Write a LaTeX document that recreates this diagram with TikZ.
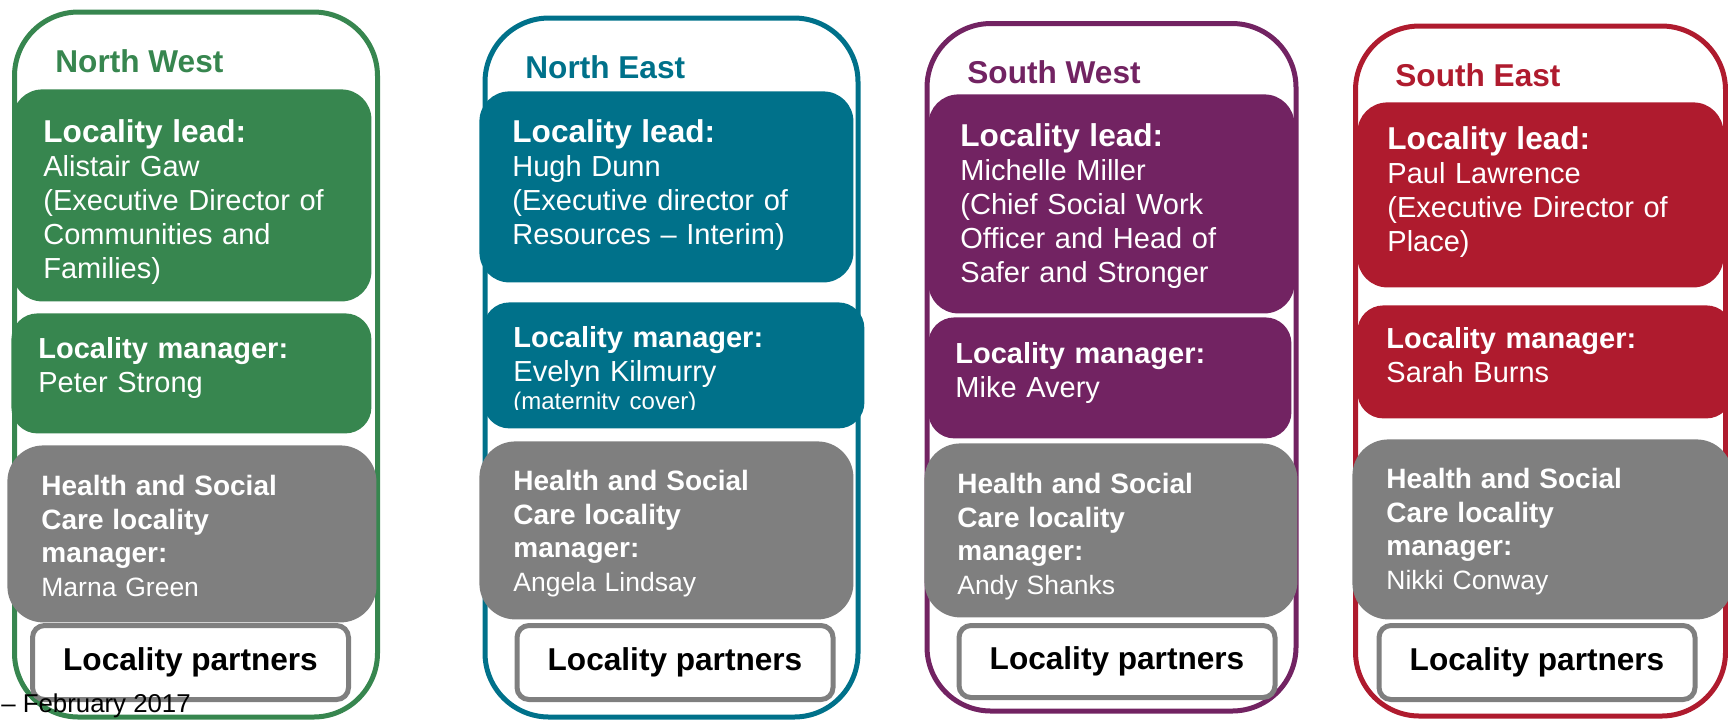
\documentclass[tikz,border=0pt]{standalone}
\usepackage{fontspec}
\setmainfont{Liberation Sans}
\usepackage{tikz}
\definecolor{nwgreen}{HTML}{37864F}
\definecolor{neteal}{HTML}{00718A}
\definecolor{swpurple}{HTML}{722362}
\definecolor{sered}{HTML}{AF1B2E}
\definecolor{boxgray}{HTML}{7F7F7F}
\newcommand{\headtext}[1]{{\fontsize{15.8}{17}\selectfont\bfseries #1}}
\newcommand{\hschead}[1]{{\fontsize{14}{16.75}\selectfont\bfseries #1}}

\begin{document}
\begin{tikzpicture}[x=0.5pt, y=-0.5pt, auto]
    \tikzstyle{areaframe} = [rectangle, line width=2.5pt, rounded corners=32pt, inner sep=0pt]
    \tikzstyle{areatitle} = [anchor=base west, inner sep=0pt, font=\fontsize{15.8}{17}\selectfont\bfseries]
    \tikzstyle{leadbox} = [rectangle, anchor=north west, rounded corners=15pt, text=white, align=left, inner ysep=0pt, font=\fontsize{14.5}{17}\selectfont]
    \tikzstyle{mgrbox} = [rectangle, anchor=north west, rounded corners=13pt, text=white, align=left, inner ysep=0pt, font=\fontsize{14.5}{17}\selectfont]
    \tikzstyle{hscbox} = [rectangle, anchor=north west, rounded corners=18pt, fill=boxgray, text=white, align=left, inner ysep=0pt, font=\fontsize{13.25}{16.75}\selectfont]
    \tikzstyle{partnerbox} = [rectangle, draw=boxgray, line width=2.5pt, fill=white, rounded corners=6pt, minimum width=158pt, minimum height=37pt, font=\fontsize{15.8}{17}\selectfont\bfseries]

    \useasboundingbox (0,0) rectangle (1728,720);
    \clip (0,0) rectangle (1728,720);

    \node[areaframe, draw=nwgreen, minimum width=181.5pt, minimum height=352.5pt] (nwframe) at (196,364.5) {};
    \node[areaframe, draw=neteal, minimum width=186.5pt, minimum height=349.5pt] (neframe) at (671.5,367.5) {};
    \node[areaframe, draw=swpurple, minimum width=184.5pt, minimum height=343.75pt] (swframe) at (1111.5,367.25) {};
    \node[areaframe, draw=sered, minimum width=185pt, minimum height=345pt] (seframe) at (1540.5,371) {};

    \node[areatitle, text=nwgreen] (nwtitle) at (55,72) {North West};
    \node[leadbox, fill=nwgreen, minimum height=106pt, inner xsep=15.5pt, text width=148.5pt, text depth=64.3pt] (nwlead) at (12,89) {\headtext{Locality lead:}\\Alistair Gaw\\(Executive Director of\\Communities and\\Families)};
    \node[mgrbox, fill=nwgreen, minimum height=60pt, inner xsep=13.5pt, text width=153pt, text depth=25.4pt] (nwmgr) at (11,313) {\textbf{Locality manager:}\\Peter Strong};
    \node[hscbox, minimum height=88.5pt, inner xsep=17pt, text width=150.5pt, text depth=48.5pt] (nwhsc) at (7,445) {\hschead{Health and Social}\\\hschead{Care locality}\\\hschead{manager:}\\Marna Green};
    \node[partnerbox] (nwptn) at (190.5,662.5) {Locality partners};

    \node[areatitle, text=neteal] (netitle) at (525,78) {North East};
    \node[leadbox, fill=neteal, minimum height=95.5pt, inner xsep=16.5pt, text width=154pt, text depth=55.8pt] (nelead) at (479,91) {\headtext{Locality lead:}\\Hugh Dunn\\(Executive director of\\Resources – Interim)};
    \node[mgrbox, fill=neteal, minimum height=63pt, inner xsep=15pt, text width=160.5pt] (nemgr) at (483,302) {};
    \begin{scope}
        \clip (470,290) rectangle (880,409.5);
        \node[anchor=north west, inner sep=0pt, text=white, align=left, text width=160pt, font=\fontsize{14.5}{17}\selectfont] (nemgrtext) at (513,326) {\textbf{Locality manager:}\\Evelyn Kilmurry\\[-3pt]{\fontsize{12}{14}\selectfont (maternity cover)}};
    \end{scope}
    \node[hscbox, minimum height=89pt, inner xsep=17pt, text width=153pt, text depth=50pt] (nehsc) at (479,441) {\hschead{Health and Social}\\\hschead{Care locality}\\\hschead{manager:}\\Angela Lindsay};
    \node[partnerbox] (neptn) at (675,662.5) {Locality partners};

    \node[areatitle, text=swpurple] (swtitle) at (967,83) {South West};
    \node[leadbox, fill=swpurple, minimum height=109.5pt, inner xsep=16pt, text width=151pt, text depth=68.8pt] (swlead) at (928,94) {\headtext{Locality lead:}\\Michelle Miller\\(Chief Social Work\\Officer and Head of\\Safer and Stronger};
    \node[mgrbox, fill=swpurple, minimum height=60.5pt, inner xsep=13.5pt, text width=154.5pt, text depth=24.9pt] (swmgr) at (928,317) {\textbf{Locality manager:}\\Mike Avery};
    \node[hscbox, minimum height=87pt, inner xsep=16.5pt, text width=153.5pt, text depth=47pt] (swhsc) at (924,443) {\hschead{Health and Social}\\\hschead{Care locality}\\\hschead{manager:}\\Andy Shanks};
    \node[partnerbox, minimum height=36pt] (swptn) at (1117,661.5) {Locality partners};

    \node[areatitle, text=sered] (setitle) at (1395,86) {South East};
    \node[leadbox, fill=sered, minimum height=92.5pt, inner xsep=15pt, text width=153pt, text depth=56.8pt] (selead) at (1357,102) {\headtext{Locality lead:}\\Paul Lawrence\\(Executive Director of\\Place)};
    \node[mgrbox, fill=sered, minimum height=56.5pt, inner xsep=14.5pt, text width=158.5pt, text depth=23.9pt] (semgr) at (1357,305) {\textbf{Locality manager:}\\Sarah Burns};
    \node[hscbox, minimum height=90pt, inner xsep=17pt, text width=156pt, text depth=51pt] (sehsc) at (1352,439) {\hschead{Health and Social}\\\hschead{Care locality}\\\hschead{manager:}\\Nikki Conway};
    \node[partnerbox] (septn) at (1537,662.5) {Locality partners};

    \node[anchor=base west, inner sep=0pt, font=\fontsize{12.9}{14}\selectfont] (date) at (1,712) {– February 2017};
\end{tikzpicture}
\end{document}
